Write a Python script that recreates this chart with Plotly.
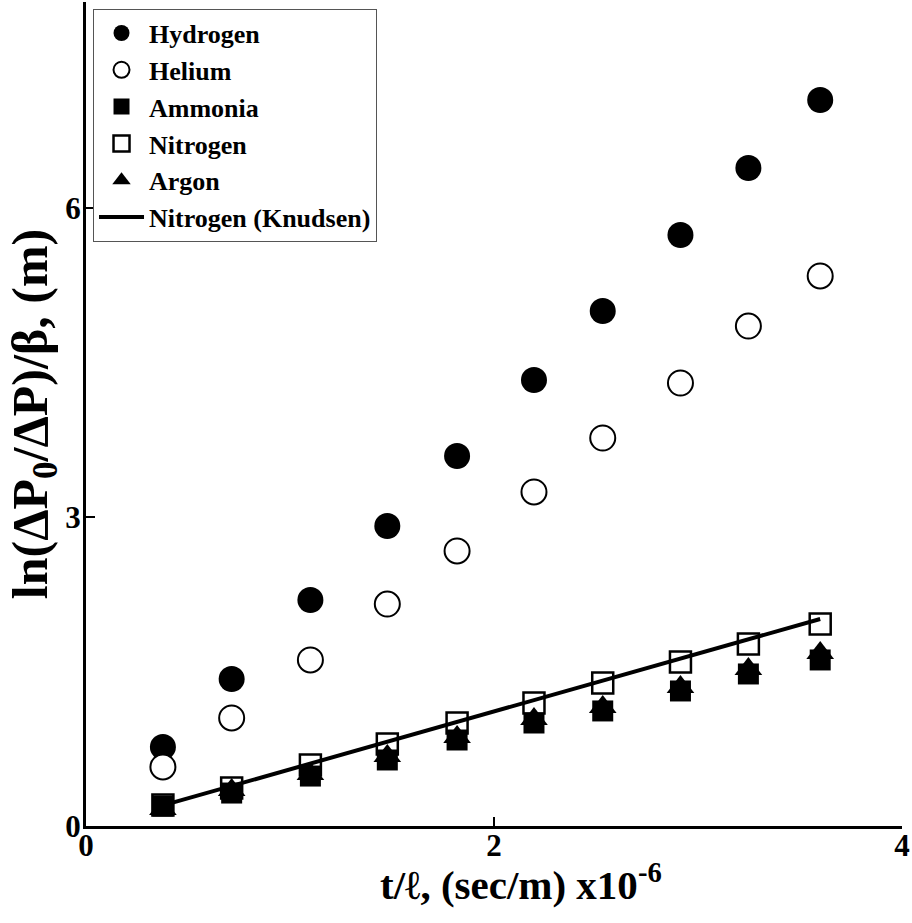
import plotly.graph_objects as go

x_vals = [0.377, 0.714, 1.100, 1.477, 1.819, 2.196, 2.533, 2.914, 3.247, 3.599]
hydrogen = [0.767, 1.427, 2.194, 2.913, 3.592, 4.330, 5.000, 5.738, 6.388, 7.049]
helium = [0.573, 1.049, 1.612, 2.155, 2.670, 3.243, 3.767, 4.301, 4.854, 5.340]
ammonia = [0.194, 0.320, 0.485, 0.641, 0.835, 1.000, 1.117, 1.311, 1.476, 1.612]
nitrogen = [0.204, 0.369, 0.592, 0.796, 1.000, 1.194, 1.388, 1.592, 1.767, 1.961]
argon = [0.165, 0.350, 0.505, 0.680, 0.864, 1.039, 1.155, 1.350, 1.524, 1.680]
knudsen_x = [0.377, 3.599]
knudsen_y = [0.20, 2.01]

x_ticks = [0, 2, 4]
y_ticks = [0, 3, 6]

FONT = "'Liberation Serif', 'Times New Roman', Times, serif"

fig = go.Figure()
fig.add_trace(go.Scatter(x=x_vals, y=hydrogen, mode="markers", name="<b>Hydrogen</b>",
                         marker=dict(symbol="circle", size=26, color="black", line=dict(width=0))))
fig.add_trace(go.Scatter(x=x_vals, y=helium, mode="markers", name="<b>Helium</b>",
                         marker=dict(symbol="circle", size=25, color="white", line=dict(width=2, color="black"))))
fig.add_trace(go.Scatter(x=x_vals, y=ammonia, mode="markers", name="<b>Ammonia</b>",
                         marker=dict(symbol="square", size=21, color="black", line=dict(width=0))))
fig.add_trace(go.Scatter(x=x_vals, y=nitrogen, mode="markers", name="<b>Nitrogen</b>",
                         marker=dict(symbol="square", size=21, color="rgba(255,255,255,0)", line=dict(width=2.5, color="black"))))
fig.add_trace(go.Scatter(x=x_vals, y=argon, mode="markers", name="<b>Argon</b>",
                         marker=dict(symbol="triangle-up", size=24, color="black", line=dict(width=0))))
fig.add_trace(go.Scatter(x=knudsen_x, y=knudsen_y, mode="lines", name="<b>Nitrogen (Knudsen)</b>",
                         line=dict(color="black", width=4)))

fig.update_layout(
    width=912, height=923,
    margin=dict(l=86, r=8, t=2, b=97),
    paper_bgcolor="white", plot_bgcolor="white",
    font=dict(family=FONT, color="black"),
    showlegend=True,
    legend=dict(
        x=0.0086, y=0.992, xanchor="left", yanchor="top",
        bgcolor="white", bordercolor="#555555", borderwidth=1,
        font=dict(family=FONT, size=26, color="black"),
        itemwidth=45, tracegroupgap=0,
    ),
    annotations=[dict(
        text="<b>t/ℓ, (sec/m) x10<sup>-6</sup></b>", xref="paper", yref="paper",
        x=0.533, y=-0.068, xanchor="center", yanchor="middle", showarrow=False,
        font=dict(family=FONT, size=41, color="black"),
    )],
)
fig.update_xaxes(
    range=[0, 4], tickvals=x_ticks, ticktext=[f"<b>{v}</b>" for v in x_ticks],
    showgrid=False, zeroline=False, showline=True, linecolor="black", linewidth=3,
    ticks="inside", ticklen=9, tickwidth=2, tickcolor="black",
    tickfont=dict(family=FONT, size=31, color="black"),
    ticklabelstandoff=-10,
)
fig.update_yaxes(
    range=[0, 8], tickvals=y_ticks, ticktext=[f"<b>{v}</b>" for v in y_ticks],
    showgrid=False, zeroline=False, showline=True, linecolor="black", linewidth=3,
    ticks="inside", ticklen=9, tickwidth=2, tickcolor="black",
    tickfont=dict(family=FONT, size=31, color="black"),
    ticklabelstandoff=-4,
    title=dict(text="<b>ln(ΔP<sub>0</sub>/ΔP)/β, (m)</b>", font=dict(family=FONT, size=50, color="black"), standoff=2),
)

fig.write_html("out.html")
